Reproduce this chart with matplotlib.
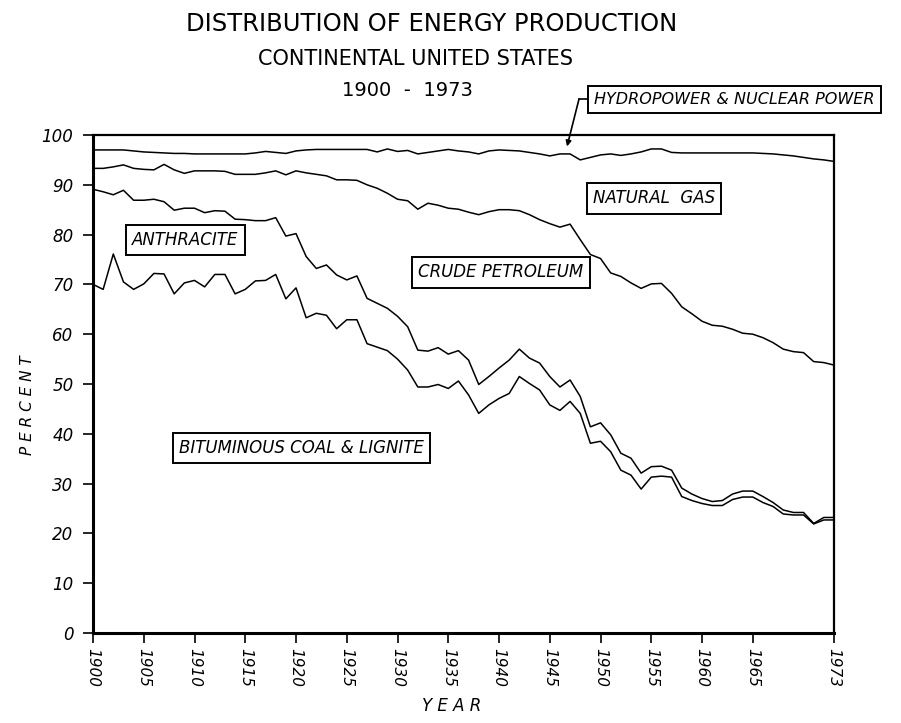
import matplotlib
matplotlib.use("Agg")
import matplotlib.pyplot as plt
import numpy as np

years = np.arange(1900, 1974)

# cumulative percent boundaries (bottom to top)
bituminous = [70.0, 69.0, 76.1, 70.5, 69.0, 70.1, 72.2, 72.1, 68.1, 70.3,
              70.8, 69.5, 72.0, 72.0, 68.1, 69.0, 70.7, 70.8, 72.0, 67.1,
              69.3, 63.3, 64.2, 63.8, 61.1, 62.9, 62.9, 58.1, 57.4, 56.7,
              55.0, 52.8, 49.4, 49.4, 49.9, 49.1, 50.6, 47.8, 44.1, 45.8,
              47.1, 48.1, 51.5, 50.1, 48.8, 45.8, 44.7, 46.5, 44.1, 38.1,
              38.5, 36.4, 32.7, 31.7, 28.9, 31.3, 31.5, 31.3, 27.4, 26.6,
              26.0, 25.6, 25.6, 26.8, 27.3, 27.3, 26.2, 25.4, 23.9, 23.7,
              23.7, 21.9, 22.7, 22.7]
plus_anthracite = [89.1, 88.6, 88.0, 88.9, 86.9, 86.9, 87.1, 86.6, 84.9, 85.3,
                   85.3, 84.4, 84.8, 84.7, 83.1, 83.0, 82.8, 82.8, 83.4, 79.7,
                   80.2, 75.6, 73.2, 73.9, 71.9, 70.9, 71.7, 67.2, 66.2, 65.2,
                   63.6, 61.5, 56.8, 56.6, 57.3, 56.0, 56.7, 54.8, 49.9, 51.5,
                   53.2, 54.8, 57.0, 55.2, 54.2, 51.5, 49.4, 50.8, 47.5, 41.4,
                   42.2, 39.8, 36.1, 35.1, 32.1, 33.4, 33.5, 32.7, 29.1, 27.9,
                   27.0, 26.4, 26.6, 27.9, 28.5, 28.5, 27.4, 26.2, 24.7, 24.2,
                   24.2, 22.0, 23.2, 23.2]
plus_petroleum = [93.3, 93.3, 93.6, 94.0, 93.3, 93.1, 93.0, 94.1, 93.0, 92.3,
                  92.8, 92.8, 92.8, 92.7, 92.1, 92.1, 92.1, 92.4, 92.8, 92.0,
                  92.8, 92.4, 92.1, 91.8, 91.0, 91.0, 90.9, 90.0, 89.3, 88.3,
                  87.1, 86.8, 85.1, 86.3, 85.9, 85.3, 85.1, 84.5, 84.0, 84.6,
                  85.0, 85.0, 84.8, 84.0, 83.0, 82.2, 81.5, 82.1, 79.0, 76.0,
                  75.2, 72.3, 71.6, 70.3, 69.2, 70.1, 70.2, 68.2, 65.5, 64.1,
                  62.6, 61.8, 61.6, 61.0, 60.2, 60.0, 59.3, 58.3, 57.0, 56.5,
                  56.3, 54.5, 54.3, 53.8]
plus_gas = [97.0, 97.0, 97.0, 97.0, 96.8, 96.6, 96.5, 96.4, 96.3, 96.3,
            96.2, 96.2, 96.2, 96.2, 96.2, 96.2, 96.4, 96.7, 96.5, 96.3,
            96.8, 97.0, 97.1, 97.1, 97.1, 97.1, 97.1, 97.1, 96.6, 97.2,
            96.7, 96.9, 96.2, 96.5, 96.8, 97.1, 96.8, 96.6, 96.2, 96.8,
            97.0, 96.9, 96.8, 96.5, 96.2, 95.8, 96.2, 96.2, 95.0, 95.5,
            96.0, 96.2, 95.9, 96.2, 96.6, 97.2, 97.2, 96.5, 96.4, 96.4,
            96.4, 96.4, 96.4, 96.4, 96.4, 96.4, 96.3, 96.2, 96.0, 95.8,
            95.5, 95.2, 95.0, 94.7]

x_ticks = [1900, 1905, 1910, 1915, 1920, 1925, 1930, 1935, 1940, 1945,
           1950, 1955, 1960, 1965, 1973]
y_ticks = list(range(0, 101, 10))

fig = plt.figure(figsize=(9.01, 7.23), dpi=100)
ax = fig.add_axes([93 / 901, 1 - 633 / 723, 741 / 901, 498 / 723])

for series in [bituminous, plus_anthracite, plus_petroleum, plus_gas]:
    ax.plot(years, series, color="black", lw=1.1)

ax.set_xlim(1900, 1973)
ax.set_ylim(0, 100)
ax.set_xticks(x_ticks)
ax.set_xticklabels([str(t) for t in x_ticks], rotation=-90, style="italic",
                   fontsize=11)
ax.set_yticks(y_ticks)
ax.set_yticklabels([str(t) for t in y_ticks], style="italic", fontsize=12)
ax.tick_params(direction="out", length=7, width=1.2, pad=4)
ax.tick_params(axis="y", pad=7)
for side in ["top", "right"]:
    ax.spines[side].set_linewidth(1.6)
for side in ["bottom", "left"]:
    ax.spines[side].set_linewidth(2.2)

ax.set_xlabel("Y E A R", style="italic", fontsize=12)
ax.xaxis.set_label_coords(0.4845, -0.128)
ax.set_ylabel("P E R C E N T", style="italic", fontsize=11)
ax.yaxis.set_label_coords(-0.078, 0.458)

box = dict(boxstyle="square,pad=0.38", fc="white", ec="black", lw=1.4)
lab = dict(style="italic", fontsize=12, ha="center", va="center",
           transform=ax.transAxes, bbox=box)
ax.text(0.7571, 0.8725, "NATURAL  GAS", **lab)
ax.text(0.5506, 0.7239, "CRUDE PETROLEUM", **lab)
ax.text(0.1242, 0.7892, "ANTHRACITE", **lab)
ax.text(0.2814, 0.3715, "BITUMINOUS COAL & LIGNITE", **lab)
ax.text(0.8657, 1.0713, "HYDROPOWER & NUCLEAR POWER", clip_on=False,
        **dict(lab, fontsize=11.5))

# leader to the thin top band
ax.plot([0.6694, 0.6559], [1.0723, 1.0723], color="black", lw=1.2,
        transform=ax.transAxes, clip_on=False)
ax.annotate("", xy=(0.6397, 0.977), xytext=(0.6559, 1.0723),
            xycoords="axes fraction", textcoords="axes fraction",
            arrowprops=dict(arrowstyle="-|>", color="black", lw=1.2,
                            mutation_scale=8, shrinkA=0, shrinkB=0))

fig.text(432 / 901, 1 - 24 / 723, "DISTRIBUTION OF ENERGY PRODUCTION",
         ha="center", va="center", fontsize=17.5, fontweight="medium")
fig.text(415 / 901, 1 - 59 / 723, "CONTINENTAL UNITED STATES",
         ha="center", va="center", fontsize=15)
fig.text(407 / 901, 1 - 90 / 723, "1900  -  1973",
         ha="center", va="center", fontsize=14)

plt.savefig("out.png", dpi=100)
plt.close()
